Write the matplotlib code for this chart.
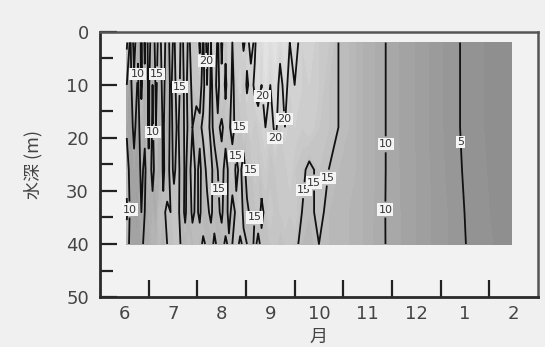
import numpy as np
import matplotlib
matplotlib.use("Agg")
import matplotlib.pyplot as plt
from matplotlib.colors import LinearSegmentedColormap

plt.rcParams['font.family'] = ['DejaVu Sans', 'Noto Sans CJK JP']

# time in months from June 1 (0 = Jun 1, 1 = Jul 1, ... 8 = Feb 1)
months = [0.55, 0.62, 0.70, 0.78, 0.85, 0.92, 1.00, 1.08, 1.15, 1.22,
          1.30, 1.38, 1.45, 1.52, 1.60, 1.68, 1.75, 1.82, 1.90, 1.98,
          2.05, 2.12, 2.20, 2.28, 2.35, 2.42, 2.50, 2.58, 2.65, 2.72,
          2.80, 2.88, 2.95, 3.02, 3.10, 3.18, 3.25, 3.32, 3.40, 3.50,
          3.60, 3.70, 3.80, 3.90, 4.00, 4.15, 4.30, 4.50, 4.70, 4.90,
          5.10, 5.40, 5.70, 6.00, 6.40, 6.80, 7.20, 7.60, 8.00, 8.46]
depths = [2, 10, 18, 26, 34, 40]

# water temperature (deg C) at each depth
temp_2m = [16, 9, 17, 11, 16, 9, 17, 12,
           17, 13, 18, 12, 17, 14, 19, 13, 18, 14, 17, 16,
           21, 14, 22, 15, 19, 14, 21, 16, 20, 15, 19, 17, 21,
           18, 22, 19, 23, 21, 24, 22, 24, 21, 23, 20,
           21, 19, 20, 18, 17, 15,
           14, 12, 10.8, 9.4, 8.2, 6.8, 5.5, 4.5, 3.8, 3.3]
temp_10m = [10, 8, 14, 9, 16, 11, 16, 10,
            16, 12, 17, 11, 16, 13, 18, 12, 17, 13, 16, 17,
            17, 13, 20, 14, 17, 13, 19, 14, 18, 14, 17, 20, 16,
            21, 18, 21, 22, 20, 23, 20, 22, 19, 21, 19,
            20, 19, 19, 18, 16, 15,
            14, 12, 10.8, 9.4, 8.2, 6.8, 5.5, 4.5, 3.8, 3.3]
temp_18m = [9, 8, 11, 8, 13, 11, 16, 9,
            15, 11, 16, 10, 17, 13, 16, 11, 17, 14, 15, 13,
            14, 16, 18, 13, 17, 16, 14, 17, 16, 13, 17, 15, 18,
            16, 19, 17, 18, 19, 20, 18, 21, 18, 20, 18,
            19, 18, 19, 17, 16, 15,
            14, 12, 10.8, 9.4, 8.2, 6.8, 5.5, 4.5, 3.8, 3.3]
temp_26m = [13, 8, 9, 8, 11, 9, 14, 8,
            13, 10, 16, 12, 17, 14, 17, 12, 16, 13, 17, 14,
            16, 13, 16, 17, 12, 15, 17, 13, 16, 18, 14, 16, 13,
            17, 15, 18, 16, 17, 18, 16, 17, 18, 17, 19,
            17, 16, 14, 16, 15, 14,
            14, 12, 10.8, 9.4, 8.3, 6.9, 5.6, 4.6, 3.9, 3.4]
temp_34m = [16, 9, 8, 8, 10, 10, 11, 12,
            10, 15, 14, 16, 15, 17, 16, 13, 16, 12, 16, 14,
            16, 12, 14, 16, 13, 14, 16, 12, 17, 13, 16, 18, 14,
            14, 16, 15, 17, 14, 16, 18, 16, 17, 18, 17,
            18, 15, 14, 16, 14, 14,
            13, 12, 10.6, 9.5, 8.3, 7.0, 5.8, 4.7, 4.0, 3.5]
temp_40m = [12, 9, 9, 8, 9, 11, 10, 13,
            12, 14, 12, 15, 16, 16, 17, 14, 13, 15, 13, 15,
            13, 16, 14, 13, 16, 14, 13, 16, 14, 15, 17, 14, 16,
            15, 13, 16, 14, 16, 15, 16, 17, 15, 16, 17,
            16, 14, 13, 15, 14, 14,
            13, 12, 10.5, 9.6, 8.3, 7.0, 5.8, 4.8, 4.1, 3.5]

month_labels = ['6', '7', '8', '9', '10', '11', '12', '1', '2']

# where the contour labels sit (month, depth)
label_month = [0.76, 1.17, 1.64, 1.13, 0.62, 2.20, 3.39, 3.08, 3.76, 2.83,
               3.35, 3.70, 2.42, 3.18, 4.00, 4.48, 4.70, 5.81, 5.81, 7.39]
label_depth = [8.0, 8.0, 10.4, 18.9, 33.5, 5.5, 12.1, 17.4, 16.5, 23.1,
               25.4, 24.6, 29.7, 35.0, 29.7, 28.4, 27.5, 21.2, 33.5, 20.8]

temp = np.array([temp_2m, temp_10m, temp_18m, temp_26m, temp_34m, temp_40m])
X, Y = np.meshgrid(months, depths)

fig = plt.figure(figsize=(5.45, 3.47), dpi=100, facecolor='#f0f0f0')
ax = fig.add_axes([0.1835, 0.144, 0.8035, 0.764])
ax.set_facecolor('#f2f2f2')

cmap = LinearSegmentedColormap.from_list('grays', ['#808080', '#e4e4e4'])
ax.contourf(X, Y, temp, levels=np.arange(0, 25.5, 1), cmap=cmap, vmin=0, vmax=24)
cs = ax.contour(X, Y, temp, levels=[5, 10, 15, 20], colors='#111111', linewidths=1.3)

ax.set_xlim(0, 9)
ax.set_ylim(50, 0)

labels = ax.clabel(cs, fmt='%d', fontsize=8, inline=True, inline_spacing=1,
                   manual=list(zip(label_month, label_depth)))
for t in labels:
    t.set_rotation(0)
    t.set_bbox(dict(facecolor='#f4f4f4', edgecolor='none', pad=0.8))
    t.set_color('#333333')

ax.set_xticks(range(1, 9))
ax.set_xticklabels([])
ax.set_xticks(np.arange(0.5, 9, 1), minor=True)
ax.set_xticklabels(month_labels, minor=True)
ax.tick_params(axis='x', which='major', direction='in', length=12, width=1.6, color='#222222')
ax.tick_params(axis='x', which='minor', length=0, pad=6, labelsize=13, labelcolor='#444444')

ax.set_yticks(range(0, 51, 10))
ax.set_yticks(range(5, 50, 10), minor=True)
ax.tick_params(axis='y', which='major', direction='in', length=12, width=1.6, color='#222222',
               pad=8, labelsize=13, labelcolor='#444444')
ax.tick_params(axis='y', which='minor', direction='in', length=9, width=1.6, color='#222222')

for side in ['left', 'bottom']:
    ax.spines[side].set_linewidth(2)
    ax.spines[side].set_color('#2a2a2a')
for side in ['top', 'right']:
    ax.spines[side].set_linewidth(1.8)
    ax.spines[side].set_color('#555555')

ax.set_xlabel('月', fontsize=13, color='#444444', labelpad=3,
              family=['Noto Sans CJK JP', 'DejaVu Sans'])
ax.set_ylabel('水深 (m)', fontsize=13, color='#444444', labelpad=17,
              family=['Noto Sans CJK JP', 'DejaVu Sans'])

fig.savefig('out.png', dpi=100, facecolor=fig.get_facecolor())
